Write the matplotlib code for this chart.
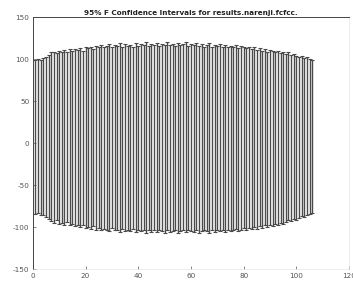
import numpy as np
from matplotlib import pyplot as plt

# interval bounds, one per run index
upper = [99, 100, 99, 101, 103, 105, 108, 109, 107, 110,
         109, 111, 108, 112, 110, 112, 111, 113, 110, 114,
         113, 115, 112, 116, 114, 117, 115, 116, 118, 114,
         117, 116, 119, 115, 118, 116, 117, 115, 119, 116,
         118, 117, 120, 116, 118, 117, 119, 116, 118, 117,
         120, 117, 118, 116, 119, 117, 118, 120, 116, 118,
         117, 119, 116, 118, 115, 117, 119, 115, 117, 116,
         118, 115, 117, 114, 116, 115, 117, 113, 116, 114,
         113, 115, 112, 114, 111, 113, 110, 112, 109, 111,
         110, 108, 110, 107, 109, 106, 108, 105, 106, 104,
         103, 104, 101, 102, 100, 99]
lower = [-84, -83, -85, -86, -88, -90, -93, -95, -92, -96,
         -95, -97, -94, -98, -96, -99, -97, -100, -98, -101,
         -100, -102, -99, -103, -101, -104, -102, -103, -105, -101,
         -104, -103, -106, -102, -105, -103, -105, -102, -106, -104,
         -105, -103, -107, -104, -106, -104, -106, -103, -105, -107,
         -104, -106, -105, -103, -107, -105, -104, -106, -103, -105,
         -106, -104, -107, -105, -103, -105, -107, -104, -106, -103,
         -105, -104, -106, -103, -105, -104, -102, -105, -103, -101,
         -103, -101, -102, -100, -102, -99, -101, -98, -100, -97,
         -99, -96, -97, -95, -96, -94, -92, -93, -90, -91,
         -89, -87, -88, -85, -84, -83]
x_ticks = [0, 20, 40, 60, 80, 100, 120]
y_ticks = [-150, -100, -50, 0, 50, 100, 150]
title = '95% F Confidence Intervals for results.narenji.fcfcc.'

plt.rcParams['axes.unicode_minus'] = False

up = np.array(upper, dtype=float)
lo = np.array(lower, dtype=float)
idx = np.arange(1, len(up) + 1)
mid = (up + lo) / 2

fig = plt.figure(figsize=(3.53, 2.90), dpi=100)
ax = fig.add_axes([0.093, 0.072, 0.896, 0.869])

ax.errorbar(idx, mid, yerr=[mid - lo, up - mid], fmt='none',
            ecolor='#4a4a4a', elinewidth=1.0, capsize=1.4, capthick=0.8)

ax.set_xlim(0, 120)
ax.set_ylim(-150, 150)
ax.set_xticks(x_ticks)
ax.set_yticks(y_ticks)
ax.tick_params(direction='in', length=2, width=0.5, labelsize=5.2,
               colors='#555555', pad=2.5)
for side in ['top', 'left']:
    ax.spines[side].set_linewidth(0.7)
    ax.spines[side].set_color('#444444')
for side in ['bottom', 'right']:
    ax.spines[side].set_linewidth(0.4)
    ax.spines[side].set_color('#e0e0e0')

ax.set_title(title, fontsize=5.2, fontweight='bold', pad=1.5, color='#222222')

fig.savefig('out.png', dpi=100)
